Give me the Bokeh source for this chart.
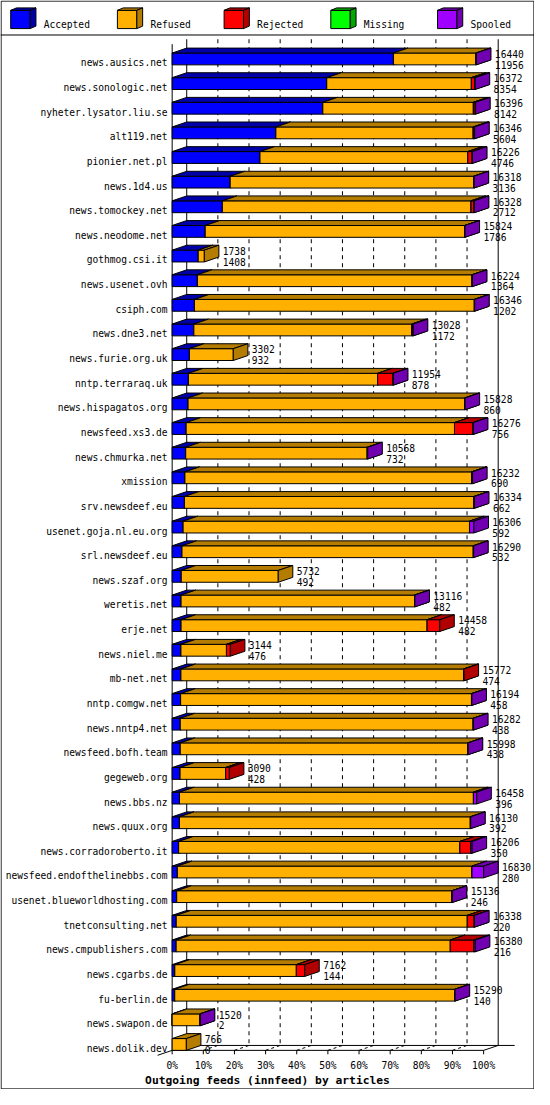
from bokeh.plotting import figure
from bokeh.models import Range1d
from bokeh.core.properties import value
from bokeh.embed import file_html
from bokeh.resources import INLINE

# ---------------- data ----------------
hosts = [
    "news.ausics.net", "news.sonologic.net", "nyheter.lysator.liu.se", "alt119.net",
    "pionier.net.pl", "news.1d4.us", "news.tomockey.net", "news.neodome.net",
    "gothmog.csi.it", "news.usenet.ovh", "csiph.com", "news.dne3.net",
    "news.furie.org.uk", "nntp.terraraq.uk", "news.hispagatos.org", "newsfeed.xs3.de",
    "news.chmurka.net", "xmission", "srv.newsdeef.eu", "usenet.goja.nl.eu.org",
    "srl.newsdeef.eu", "news.szaf.org", "weretis.net", "erje.net",
    "news.niel.me", "mb-net.net", "nntp.comgw.net", "news.nntp4.net",
    "newsfeed.bofh.team", "gegeweb.org", "news.bbs.nz", "news.quux.org",
    "news.corradoroberto.it", "newsfeed.endofthelinebbs.com", "usenet.blueworldhosting.com",
    "tnetconsulting.net", "news.cmpublishers.com", "news.cgarbs.de", "fu-berlin.de",
    "news.swapon.de", "news.dolik.dev",
]
offered = [16440, 16372, 16396, 16346, 16226, 16318, 16328, 15824, 1738, 16224, 16346,
           13028, 3302, 11954, 15828, 16276, 10568, 16232, 16334, 16306, 16290, 5732,
           13116, 14458, 3144, 15772, 16194, 16282, 15998, 3090, 16458, 16130, 16206,
           16830, 15136, 16338, 16380, 7162, 15290, 1520, 766]
accepted = [11956, 8354, 8142, 5604, 4746, 3136, 2712, 1786, 1408, 1364, 1202,
            1172, 932, 878, 860, 756, 732, 690, 662, 592, 532, 492,
            482, 482, 476, 474, 458, 438, 438, 428, 396, 392, 350,
            280, 246, 220, 216, 144, 140, 2, 0]
refused = [4454, 7813, 8134, 10662, 11230, 13162, 13436, 14018, 330, 14840, 15124,
           11776, 2370, 10226, 14948, 14500, 9806, 15492, 15642, 15474, 15738, 5240,
           12614, 13296, 2458, 15278, 15716, 15824, 15540, 2462, 15882, 15718, 15196,
           15920, 14870, 15728, 14814, 6568, 15130, 1498, 766]
rejected = [0, 175, 100, 60, 230, 0, 160, 0, 0, 0, 0,
            60, 0, 830, 0, 1000, 0, 20, 0, 0, 0, 0,
            0, 680, 210, 20, 0, 0, 0, 200, 0, 0, 580,
            0, 0, 370, 1280, 450, 0, 0, 0]
missing = [0, 0, 0, 0, 0, 0, 0, 0, 0, 0, 0,
           0, 0, 0, 0, 0, 0, 0, 0, 0, 0, 0,
           0, 0, 0, 0, 0, 0, 0, 0, 0, 0, 0,
           0, 0, 0, 0, 0, 0, 0, 0]
spooled = [30, 30, 20, 20, 20, 20, 20, 20, 0, 20, 20,
           20, 0, 20, 20, 20, 30, 30, 30, 240, 20, 0,
           20, 0, 0, 0, 20, 20, 20, 0, 180, 20, 80,
           630, 20, 20, 70, 0, 20, 20, 0]
series_names = ["Accepted", "Refused", "Rejected", "Missing", "Spooled"]
x_ticks = [0, 10, 20, 30, 40, 50, 60, 70, 80, 90, 100]
x_tick_labels = ["0%", "10%", "20%", "30%", "40%", "50%", "60%", "70%", "80%", "90%", "100%"]
chart_title = "Outgoing feeds (innfeed) by articles"

# ---------------- styles / geometry ----------------
FRONT = ["#0000FF", "#FFB000", "#FF0000", "#00FF00", "#A000FF"]
DARK = ["#0000A8", "#B47C00", "#B00000", "#00A800", "#7000B0"]
FONT = "DejaVu Sans Mono"
FS = "9.6px"

REF_W, REF_H = 550.0, 1105.0
FIG_W, FIG_H = 534, 1089
PX_PCT = 3.208      # reference pixels per percent
PX_ROW = 25.0       # reference pixels per row
ORIGIN_X = 176.8
ORIGIN_Y = 59.3
DX = 15.0 / PX_PCT
DY = 5.0 / PX_ROW
HH = 6.0 / PX_ROW


def hx(px):
    return (px - ORIGIN_X) / PX_PCT


def hy(py):
    return (py - ORIGIN_Y) / PX_ROW


p = figure(width=FIG_W, height=FIG_H,
           x_range=Range1d(hx(0), hx(REF_W)),
           y_range=Range1d(start=hy(REF_H), end=hy(0)),
           output_backend="svg", toolbar_location=None,
           x_axis_type=None, y_axis_type=None, min_border=0)
p.outline_line_color = None
p.background_fill_color = "white"
p.border_fill_color = "white"

n = len(hosts)
vmax = max(offered)
floor_f = (n - 1) + HH
floor_b = floor_f - DY
top_f = hy(44.3)
top_b = top_f - DY

# ---- back plane grid (dashed) ----
gx = [[t + DX, t + DX] for t in x_ticks[1:-1]]
gy = [[top_b, floor_b] for t in x_ticks[1:-1]]
p.multi_line(gx, gy, line_color="black", line_width=1, line_dash="4 4")
dgx = [[t, t + DX] for t in x_ticks[1:-1]]
dgy = [[floor_f, floor_b] for t in x_ticks[1:-1]]
p.multi_line(dgx, dgy, line_color="black", line_width=1, line_dash="3 3")

# ---- solid frame lines ----
sx0, sy0, sx1, sy1 = [], [], [], []
def seg(a, b, c, d):
    sx0.append(a); sy0.append(b); sx1.append(c); sy1.append(d)

seg(DX, top_b, DX, floor_b)                     # back-left edge
seg(100 + DX, top_b, 100 + DX, floor_b)         # right wall
seg(0, top_f, 0, floor_f)                       # front-left edge
seg(0, floor_f, 100, floor_f)                   # floor front
seg(DX, floor_b, 100 + DX + 17.0 / PX_PCT, floor_b)  # floor back
seg(100, floor_f, 100 + DX, floor_b)            # floor right diagonal
seg(-DX, floor_f + DY, 0, floor_f)              # floor left diagonal
for t in x_ticks:
    seg(t, floor_f, t, floor_f + 4.0 / PX_ROW)  # ticks
p.segment(sx0, sy0, sx1, sy1, line_color="black", line_width=1)

# ---- bars (3D boxes, painted left to right) ----
xs, ys, cols = [], [], []
for i in range(n):
    segs = [accepted[i], refused[i], rejected[i], missing[i], spooled[i]]
    yt, yb = i - HH, i + HH
    cum = 0
    for k, v in enumerate(segs):
        if v <= 0:
            continue
        x0 = cum / vmax * 100
        cum += v
        x1 = cum / vmax * 100
        xs.append([x0, x1, x1, x0]); ys.append([yt, yt, yb, yb]); cols.append(FRONT[k])
        xs.append([x0, x1, x1 + DX, x0 + DX]); ys.append([yt, yt, yt - DY, yt - DY]); cols.append(DARK[k])
        xs.append([x1, x1 + DX, x1 + DX, x1]); ys.append([yt, yt - DY, yb - DY, yb]); cols.append(DARK[k])
p.patches(xs=xs, ys=ys, fill_color=cols, line_color="black", line_width=1, line_join="miter")

# ---- row labels ----
rows = list(range(n))
p.text(x=[hx(172.0)] * n, y=[r + 0.16 for r in rows], text=hosts,
       text_font=value(FONT), text_font_size=value(FS), text_color="black",
       text_align="right", text_baseline="alphabetic")

# ---- value labels ----
ends = [o / vmax * 100 + DX + 4.0 / PX_PCT for o in offered]
p.text(x=ends, y=[r - 0.21 for r in rows], text=[str(v) for v in offered],
       text_font=value(FONT), text_font_size=value(FS), text_color="black",
       text_align="left", text_baseline="alphabetic")
p.text(x=ends, y=[r + 0.23 for r in rows], text=[str(v) for v in accepted],
       text_font=value(FONT), text_font_size=value(FS), text_color="black",
       text_align="left", text_baseline="alphabetic")

# ---- x tick labels ----
p.text(x=x_ticks, y=[hy(1080.7)] * len(x_ticks), text=x_tick_labels,
       text_font=value(FONT), text_font_size=value(FS), text_color="black",
       text_align="center", text_baseline="alphabetic")

# ---- title ----
p.text(x=[hx(275)], y=[hy(1095.5)], text=[chart_title],
       text_font=value(FONT), text_font_size=value("11.3px"), text_font_style="bold",
       text_color="black", text_align="center", text_baseline="alphabetic")

# ---- legend ----
lxs, lys, lcols = [], [], []
LSTEP = 109.9
for k, name in enumerate(series_names):
    lx = 10.5 + k * LSTEP
    a, b = hx(lx), hx(lx + 20)
    c, d = hx(lx + 6), hx(lx + 26)
    t, bt = hy(10), hy(28.5)
    t2, bt2 = hy(7.5), hy(26)
    lxs.append([a, b, b, a]); lys.append([t, t, bt, bt]); lcols.append(FRONT[k])
    lxs.append([a, b, d, c]); lys.append([t, t, t2, t2]); lcols.append(DARK[k])
    lxs.append([b, d, d, b]); lys.append([t, t2, bt2, bt]); lcols.append(DARK[k])
p.patches(xs=lxs, ys=lys, fill_color=lcols, line_color="black", line_width=1)
p.text(x=[hx(44.5 + k * LSTEP) for k in range(len(series_names))],
       y=[hy(24)] * len(series_names), text=series_names,
       text_font=value(FONT), text_font_size=value(FS), text_color="black",
       text_align="left", text_baseline="alphabetic")

# ---- outer border and legend separator ----
p.segment([hx(0)], [hy(35)], [hx(REF_W)], [hy(35)], line_color="black", line_width=1)
p.quad(left=[hx(0.6)], right=[hx(REF_W - 0.6)], top=[hy(0.6)], bottom=[hy(REF_H - 0.6)],
       fill_color=None, line_color="black", line_width=1)

open("out.html", "w").write(file_html(p, INLINE))
